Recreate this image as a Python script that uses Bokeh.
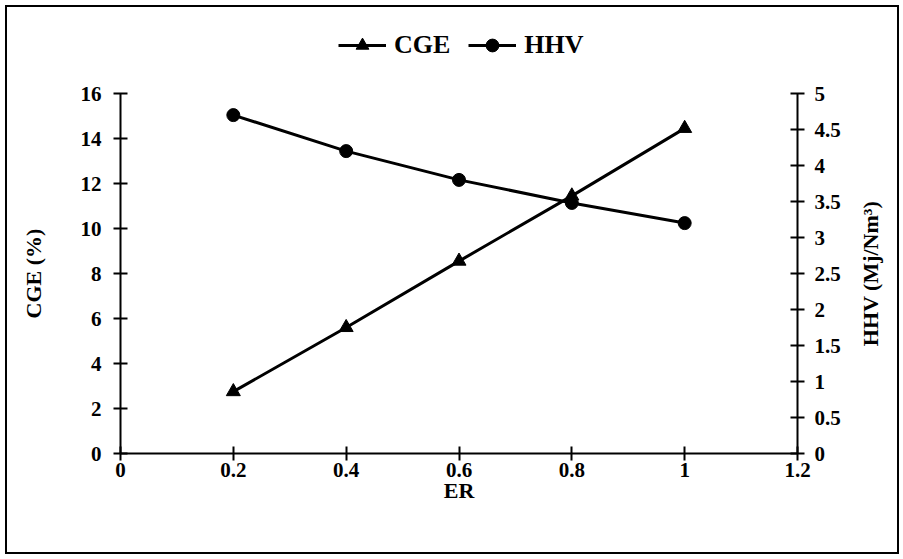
import math
from bokeh.plotting import figure
from bokeh.layouts import column, row
from bokeh.models import (Range1d, LinearAxis, FixedTicker, NumeralTickFormatter, Legend,
                          LegendItem, Label)
from bokeh.embed import file_html
from bokeh.resources import INLINE

# Equivalence ratio vs. cold gas efficiency and higher heating value
er = [0.2, 0.4, 0.6, 0.8, 1.0]
cge = [2.75, 5.6, 8.55, 11.45, 14.45]      # CGE (%)
hhv = [4.7, 4.2, 3.8, 3.48, 3.2]           # HHV (Mj/Nm3)

x_ticks = [0, 0.2, 0.4, 0.6, 0.8, 1.0, 1.2]
cge_ticks = [0, 2, 4, 6, 8, 10, 12, 14, 16]
hhv_ticks = [0, 0.5, 1, 1.5, 2, 2.5, 3, 3.5, 4, 4.5, 5]

FONT = "Liberation Serif"
TOTAL_W = 890
LEG_H, MAIN_H, TITLE_W = 76, 469, 40


def bare(fig):
    fig.grid.visible = False
    fig.outline_line_color = None
    fig.background_fill_color = "white"
    fig.border_fill_color = "white"
    return fig


# ---- main chart -------------------------------------------------------------
main = bare(figure(width=TOTAL_W - TITLE_W, height=MAIN_H, output_backend="svg",
                   toolbar_location=None, x_range=Range1d(0, 1.2), y_range=Range1d(0, 16),
                   min_border_left=113, min_border_right=60, min_border_top=10,
                   min_border_bottom=99))
main.extra_y_ranges = {"hhv": Range1d(0, 5)}

right_axis = LinearAxis(y_range_name="hhv")
main.add_layout(right_axis, "right")

xa = main.xaxis[0]
ya = main.yaxis[0]
xa.ticker = FixedTicker(ticks=x_ticks)
xa.formatter = NumeralTickFormatter(format="0.[0]")
ya.ticker = FixedTicker(ticks=cge_ticks)
right_axis.ticker = FixedTicker(ticks=hhv_ticks)
right_axis.formatter = NumeralTickFormatter(format="0.[0]")

xa.axis_label = "ER"
ya.axis_label = "CGE (%)"

for ax in (xa, ya, right_axis):
    ax.axis_line_color = "black"
    ax.axis_line_width = 2
    ax.major_tick_line_color = "black"
    ax.major_tick_line_width = 2
    ax.major_tick_in = 7
    ax.major_tick_out = 7
    ax.minor_tick_line_color = None
    ax.major_label_text_font = FONT
    ax.major_label_text_font_style = "bold"
    ax.major_label_text_font_size = "21px"
    ax.major_label_text_color = "black"
    ax.axis_label_text_font = FONT
    ax.axis_label_text_font_style = "bold"
    ax.axis_label_text_font_size = "22px"
    ax.axis_label_text_color = "black"

xa.major_label_standoff = 2
xa.axis_label_standoff = -2
ya.major_label_standoff = 12
ya.axis_label_standoff = 32
right_axis.major_label_standoff = 10

main.line(er, cge, line_color="black", line_width=3)
main.scatter(er, cge, marker="triangle", size=14, fill_color="black", line_color="black")
main.line(er, hhv, line_color="black", line_width=3, y_range_name="hhv")
main.scatter(er, hhv, marker="circle", size=13, fill_color="black", line_color="black",
             y_range_name="hhv")

# ---- legend strip across the top --------------------------------------------
# the series are repeated here only to key the legend; the strip's ranges keep them out of view
leg = bare(figure(width=TOTAL_W, height=LEG_H, output_backend="svg", toolbar_location=None,
                  x_axis_location=None, y_axis_location=None, min_border=0,
                  x_range=Range1d(-3, -2), y_range=Range1d(-3, -2)))
key_cge = [leg.line(er, cge, line_color="black", line_width=3),
           leg.scatter(er, cge, marker="triangle", size=14, fill_color="black",
                       line_color="black")]
key_hhv = [leg.line(er, hhv, line_color="black", line_width=3),
           leg.scatter(er, hhv, marker="circle", size=13, fill_color="black",
                       line_color="black")]
legend = Legend(items=[LegendItem(label="CGE", renderers=key_cge),
                       LegendItem(label="HHV", renderers=key_hhv)],
                orientation="horizontal", location=(331, 22),
                glyph_width=48, glyph_height=32, label_standoff=8, spacing=18,
                padding=0, margin=0, border_line_color=None, background_fill_alpha=0,
                label_text_font=FONT, label_text_font_style="bold",
                label_text_font_size="26px", label_text_color="black")
leg.add_layout(legend, "center")

# ---- right-hand axis title, reading bottom to top ------------------------------
ttl = bare(figure(width=TITLE_W, height=MAIN_H, output_backend="svg", toolbar_location=None,
                  x_axis_location=None, y_axis_location=None, min_border=0,
                  x_range=Range1d(0, 1), y_range=Range1d(0, 1)))
ttl.add_layout(Label(x=13, y=180, x_units="screen", y_units="screen",
                     text="HHV (Mj/Nm\u00b3)", angle=math.pi / 2,
                     text_align="center", text_baseline="middle",
                     text_font=FONT, text_font_style="bold", text_font_size="22px",
                     text_color="black"))

p = column(leg, row(main, ttl))
p.styles = {"margin-left": "5px", "margin-top": "5px", "border": "2px solid black"}

open("out.html", "w").write(file_html(p, INLINE))
